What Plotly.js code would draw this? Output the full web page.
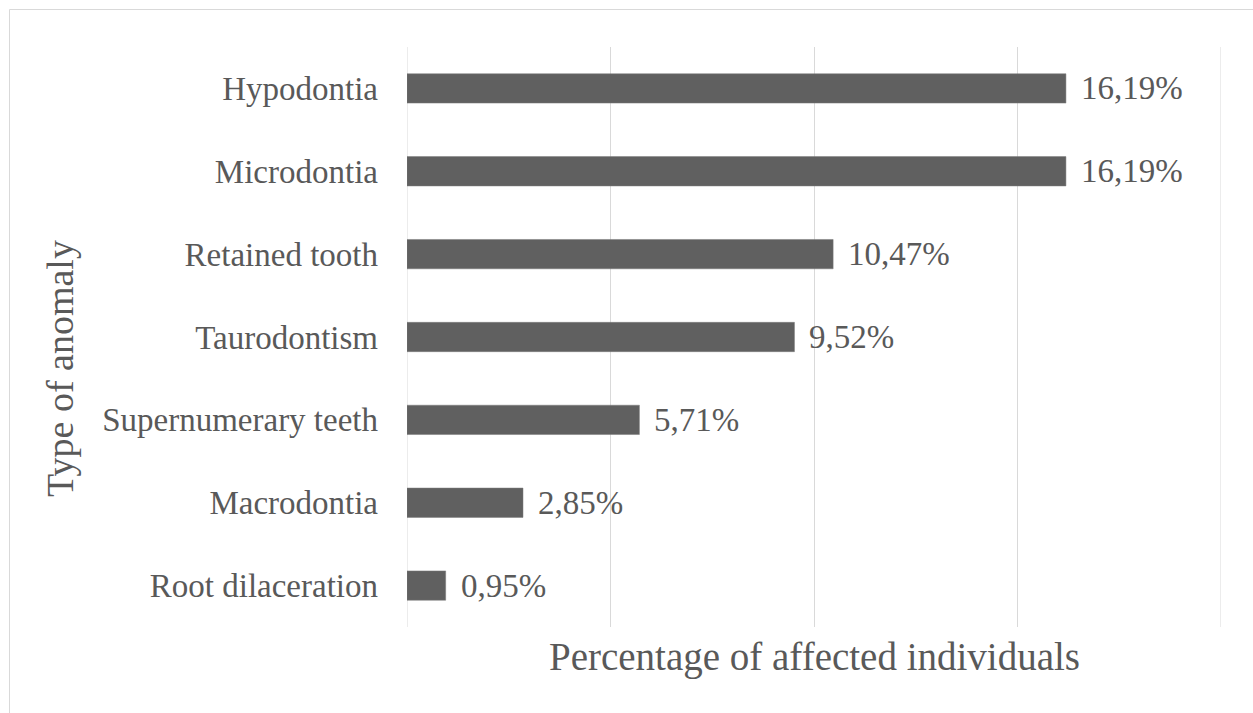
<!DOCTYPE html>
<html>
<head>
<meta charset="utf-8">
<script src="https://cdn.plot.ly/plotly-3.0.1.min.js"></script>
<style>
  html, body { margin: 0; padding: 0; background: #ffffff; }
  #chart { width: 1253px; height: 713px; }
</style>
</head>
<body>
<div id="chart"></div>
<script>
// Data (top = first)
const categories = ["Hypodontia", "Microdontia", "Retained tooth", "Taurodontism", "Supernumerary teeth", "Macrodontia", "Root dilaceration"];
const values = [16.19, 16.19, 10.47, 9.52, 5.71, 2.85, 0.95];
const valueLabels = ["16,19%", "16,19%", "10,47%", "9,52%", "5,71%", "2,85%", "0,95%"];
const xTitle = "Percentage of affected individuals";
const yTitle = "Type of anomaly";
const xMin = 0, xMax = 20, xStep = 5;

const W = 1253, H = 713;
const mL = 407, mR = 32, mT = 47, mB = 86;
const pw = W - mL - mR, ph = H - mT - mB;
const textColor = "#595959";
const gridColor = "#d9d9d9";
const fontFam = "'Liberation Serif', 'Times New Roman', serif";

const trace = {
  type: "bar",
  orientation: "h",
  x: values,
  y: categories,
  marker: { color: "#606060", line: { color: "#7a7a7a", width: 0.5 } },
  hoverinfo: "skip"
};

const annotations = categories.map((c, i) => ({
  x: values[i], y: c, xref: "x", yref: "y",
  text: valueLabels[i], showarrow: false,
  xanchor: "left", yanchor: "middle", xshift: 13, yshift: 0,
  font: { family: fontFam, size: 33, color: textColor }
}));

annotations.push({
  x: 0.5, y: 0, xref: "paper", yref: "paper",
  text: xTitle, showarrow: false, xanchor: "center", yanchor: "middle",
  yshift: -30,
  font: { family: fontFam, size: 39, color: textColor }
});
annotations.push({
  x: 0, y: 0.5, xref: "paper", yref: "paper",
  text: yTitle, showarrow: false, xanchor: "center", yanchor: "middle",
  textangle: -90, xshift: 60 - mL, yshift: -32,
  font: { family: fontFam, size: 38, color: textColor }
});

// gridlines at the range edges (Plotly drops them at the plot borders)
const edgeGrid = [xMin, xMax].map(v => ({
  type: "line", xref: "x", yref: "paper", layer: "below",
  x0: v, x1: v, y0: 0, y1: 1,
  line: { color: gridColor, width: 1 }
}));

const layout = {
  width: W, height: H,
  margin: { l: mL, r: mR, t: mT, b: mB, pad: 0 },
  paper_bgcolor: "#ffffff",
  plot_bgcolor: "#ffffff",
  showlegend: false,
  bargap: 0.646,
  xaxis: {
    range: [xMin, xMax],
    dtick: xStep,
    tick0: xMin,
    showgrid: true,
    gridcolor: gridColor,
    gridwidth: 1,
    zeroline: false,
    showline: false,
    showticklabels: false,
    ticks: "",
    fixedrange: true
  },
  yaxis: {
    type: "category",
    autorange: "reversed",
    showgrid: false,
    zeroline: false,
    showline: false,
    ticks: "",
    ticklabelstandoff: 28,
    tickfont: { family: fontFam, size: 33, color: textColor },
    fixedrange: true
  },
  annotations: annotations,
  shapes: edgeGrid.concat([{
    type: "rect", xref: "paper", yref: "paper", layer: "below",
    x0: (9.5 - mL) / pw, x1: (W + 20 - mL) / pw,
    y0: (H - mB - (H + 20)) / ph, y1: (H - mB - 9.5) / ph,
    line: { color: gridColor, width: 1 }, fillcolor: "rgba(0,0,0,0)"
  }])
};

Plotly.newPlot("chart", [trace], layout, { staticPlot: true, displayModeBar: false });
</script>
</body>
</html>
